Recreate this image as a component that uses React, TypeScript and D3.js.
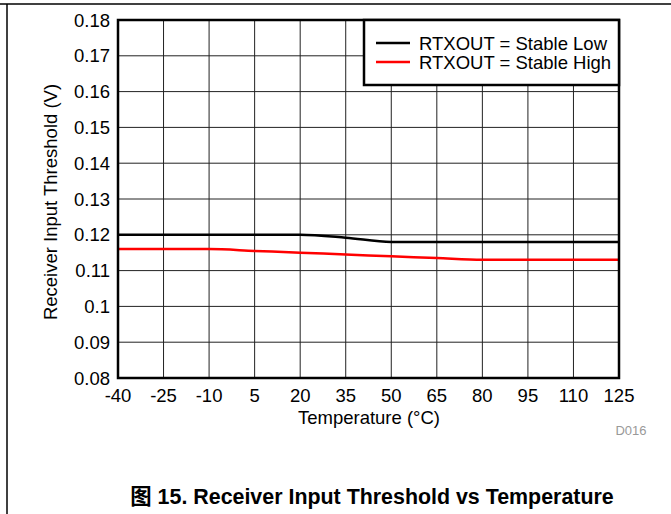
import React from "react";
import * as d3 from "d3";

const temps = [-40, -25, -10, 5, 20, 35, 50, 65, 80, 95, 110, 125];
const stableLow = [0.12, 0.12, 0.12, 0.12, 0.12, 0.1192, 0.118, 0.118, 0.118, 0.118, 0.118, 0.118];
const stableHigh = [0.116, 0.116, 0.116, 0.1155, 0.115, 0.1145, 0.114, 0.1135, 0.113, 0.113, 0.113, 0.113];
const yTicks = [0.08, 0.09, 0.1, 0.11, 0.12, 0.13, 0.14, 0.15, 0.16, 0.17, 0.18];
const seriesNames = ["RTXOUT = Stable Low", "RTXOUT = Stable High"];
const seriesColors = ["#000000", "#ff0000"];

const W = 671;
const H = 514;
const L = 118, R = 619, T = 20, B = 378;
const FONT = "'Liberation Sans', Arial, sans-serif";
const FS = 18.5;

export default function App() {
  const x = d3.scaleLinear().domain([-40, 125]).range([L, R]);
  const y = d3.scaleLinear().domain([0.08, 0.18]).range([B, T]);
  const line = d3
    .line<[number, number]>()
    .x((d) => x(d[0]))
    .y((d) => y(d[1]))
    .curve(d3.curveMonotoneX);
  const series = [stableLow, stableHigh];

  return (
    <svg
      width={W}
      height={H}
      style={{ position: "absolute", left: 0, top: 0, background: "#fff" }}
      fontFamily={FONT}
    >
      <rect x={0} y={0} width={W} height={H} fill="#fff" />
      {/* page frame */}
      <line x1={0} x2={W} y1={4} y2={4} stroke="#000" strokeWidth={1.5} />
      <line x1={7} x2={7} y1={4} y2={H} stroke="#000" strokeWidth={1.5} />

      {/* grid */}
      {temps.map((t) => (
        <line key={"gx" + t} x1={x(t)} x2={x(t)} y1={T} y2={B} stroke="#222" strokeWidth={1} />
      ))}
      {yTicks.map((v) => (
        <line key={"gy" + v} x1={L} x2={R} y1={y(v)} y2={y(v)} stroke="#222" strokeWidth={1} />
      ))}

      {/* series */}
      {series.map((s, i) => (
        <path
          key={"s" + i}
          d={line(temps.map((t, j) => [t, s[j]] as [number, number])) || ""}
          fill="none"
          stroke={seriesColors[i]}
          strokeWidth={2.5}
        />
      ))}

      {/* plot border */}
      <rect x={L} y={T} width={R - L} height={B - T} fill="none" stroke="#000" strokeWidth={2.5} />

      {/* legend */}
      <rect x={364} y={T} width={R - 364} height={65} fill="#fff" stroke="#000" strokeWidth={2.5} />
      {seriesNames.map((n, i) => (
        <g key={"lg" + i}>
          <line x1={376} x2={410} y1={43 + i * 19} y2={43 + i * 19} stroke={seriesColors[i]} strokeWidth={2.5} />
          <text x={419} y={43 + i * 19} dominantBaseline="central" fontSize={FS} fill="#000">
            {n}
          </text>
        </g>
      ))}

      {/* y tick labels */}
      {yTicks.map((v) => (
        <text key={"yl" + v} x={110} y={y(v)} textAnchor="end" dominantBaseline="central" fontSize={FS} fill="#000">
          {d3.format("")(+v.toFixed(2))}
        </text>
      ))}
      {/* x tick labels */}
      {temps.map((t) => (
        <text key={"xl" + t} x={x(t)} y={395} textAnchor="middle" dominantBaseline="central" fontSize={FS} fill="#000">
          {t}
        </text>
      ))}

      <text x={369} y={417} textAnchor="middle" dominantBaseline="central" fontSize={FS} fill="#000">
        Temperature (°C)
      </text>
      <text
        transform={`translate(50,202) rotate(-90)`}
        textAnchor="middle"
        dominantBaseline="central"
        fontSize={FS}
        fill="#000"
      >
        Receiver Input Threshold (V)
      </text>
      <text x={631} y={430} textAnchor="middle" dominantBaseline="central" fontSize={13} fill="#999">
        D016
      </text>
      <text
        x={372}
        y={497}
        textAnchor="middle"
        dominantBaseline="central"
        fontSize={21.4}
        fontWeight="bold"
        fill="#000"
        fontFamily={"'Liberation Sans', 'Noto Sans CJK SC', Arial, sans-serif"}
      >
        图 15. Receiver Input Threshold vs Temperature
      </text>
    </svg>
  );
}
